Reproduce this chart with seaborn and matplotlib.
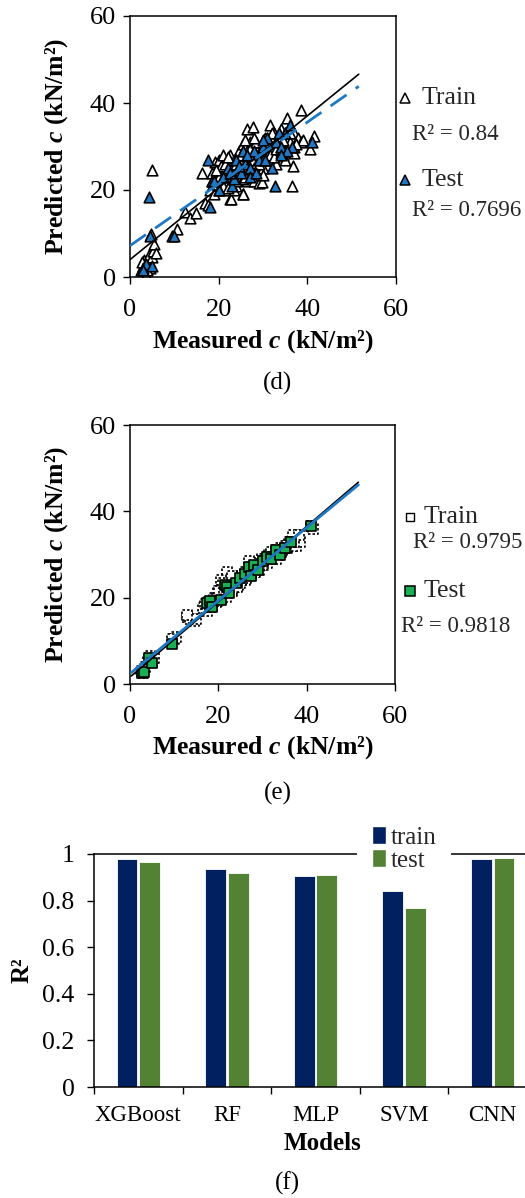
import matplotlib
matplotlib.use("Agg")
import matplotlib.pyplot as plt
from matplotlib.lines import Line2D
from matplotlib.patches import Patch
import seaborn as sns
import pandas as pd
import numpy as np

# ---------------- data ----------------
# Panel (d) SVM
d_train_x = [2.5, 3, 3.2, 3.5, 4, 4.2, 4.5, 5, 5.2, 5.5, 4.8, 3.8, 2.8, 5.8,
             4.9, 10.5, 12.5, 13.5, 14.8, 16.2, 17, 17.5, 18, 18.5, 19, 19.2, 19.5, 20, 20.5, 21,
             21, 21.5, 22, 22, 22.5, 22.5, 23, 23, 23.5, 24, 24, 24.5, 25, 25, 25.5, 25.5, 26,
             26, 26.3, 26.5, 27, 27, 27.5, 27.8, 28, 28, 28.5, 29, 29, 29.5, 30, 30, 30.5, 31,
             31, 31.5, 32, 32, 32.5, 33, 33, 33.5, 34, 34, 34.5, 35, 35, 35.5, 36, 36, 36.5,
             36.8, 37, 37, 38, 38.5, 38.5, 40.5, 41.5, 39, 29.7, 25.6, 22.8, 24, 26, 28, 21, 20,
             20, 20.5, 21.5, 22, 23, 23.5, 24, 24.5, 25, 25.5, 26, 26.5, 27, 27.5, 28, 28.5, 29,
             29.5, 30, 30.5, 31, 31.5, 32, 32.5, 33, 33.5, 34, 34.5, 35, 36, 37, 37.5, 19.5, 18.5,
             22, 26, 30, 34, 24, 28]
d_train_y = [1.5, 2.5, 4, 0.5, 3, 5, 2, 4.5, 6, 7.5, 10, 1.5, 3.5, 5.5,
             24.5, 11, 15, 13.5, 14.8, 24, 17, 16.5, 20, 24, 19, 26.5, 22, 27, 21, 24,
             28, 20, 23, 26, 18, 28, 22, 25, 27, 21, 24, 29, 23, 26, 30.5, 19, 25,
             28, 34, 22, 27, 31, 24, 34.5, 29, 22, 26, 30, 21.5, 27, 31, 25, 28, 32,
             29, 35, 27, 30, 33, 31, 26, 29, 32, 34, 28, 30, 33, 36.5, 29, 31, 21,
             25.5, 33, 28.5, 32, 38.5, 31, 29.5, 32.5, 31.5, 21.8, 19, 18, 27, 30, 31, 21, 20,
             23, 25.5, 26, 27.5, 24, 20, 26, 25, 28, 22.5, 23, 29, 29.5, 27, 25, 31, 26,
             29.5, 27, 32, 30.5, 28, 33, 27.5, 29.5, 32.5, 30, 31.5, 27, 33, 30, 30.5, 24.5, 22,
             20.5, 31.5, 23.5, 28.5, 22, 32]
d_test_x = [3, 3.5, 4.5, 5, 3, 4.3, 9.5, 10, 17.5, 18, 18.5, 20, 21, 22, 23, 24, 25, 25.5,
            26, 27, 28, 29, 30, 31, 32, 32.7, 33, 34, 35, 36, 36.5, 41, 27, 23.5,
            24.5, 28.5, 30.5, 33.5, 35.5, 19, 22.5, 26.5, 30, 34]
d_test_y = [2, 3, 9.5, 2.5, 1.5, 18.5, 9.5, 9.5, 27, 16, 22, 20, 23, 25, 21, 27, 24, 29,
            26, 25, 29, 27, 30, 32, 25, 21, 31, 30, 33, 35, 30, 31, 23, 22.5,
            25.5, 24, 27, 33, 29, 22, 24, 28, 31.5, 28]
d_fit_x = [0.0, 51.6]
d_train_fit = (0.826, 4.0)    # slope, intercept
d_test_fit = (0.71, 7.2)
d_r2 = ["R² = 0.84", "R² = 0.7696"]

# Panel (e) CNN
e_train_x = [2.5, 3, 3.5, 4, 4.5, 5, 5.5, 10, 10.5, 13, 13.5, 14.5, 15, 16.5, 17, 17.5, 18,
             18.5, 19, 19.5, 20, 20.5, 21, 21, 21.5, 22, 22, 22.5, 23, 23, 23.5, 24, 24.5, 25,
             25, 25.5, 26, 26, 26.5, 27, 27.5, 28, 28, 28.5, 29, 29, 29.5, 30, 30, 30.5, 31,
             31, 31.5, 32, 32, 32.5, 33, 33.5, 34, 34.5, 35, 35.5, 36, 36.5, 37, 37.5, 38,
             38.5, 22, 20.5, 41, 41.5, 12.8, 9.5, 37,
             17.8, 18.2, 19.2, 19.8, 20.2, 21.2, 21.8, 22.8, 23.2, 24.2, 24.8, 25.2, 26.2, 27.2,
             27.8, 28.2, 29.2, 30.2, 31.2, 32.2, 33.2, 34.2, 35.2, 36.2, 37.2, 38.2, 21, 23, 27, 33]
e_train_y = [3.0, 2.5, 4, 5.5, 6.5, 5, 6, 10.5, 11, 15.5, 15, 14.5, 15, 17.5, 18.5, 17, 19,
             18, 20, 19, 21.5, 20, 22, 20.5, 21, 23, 21, 22, 23.5, 21.5, 22.5, 24, 23, 25,
             23.5, 24.5, 26, 24, 25, 26.5, 25.5, 27.5, 26, 26.5, 28, 27, 27.5, 29, 27.5, 28.5, 29.5,
             28, 30, 30.5, 29, 29.5, 31, 30, 31.5, 31, 32, 31.5, 33, 32, 33.5, 32, 34,
             33, 26, 24, 36.5, 36, 16, 10.5, 34.5,
             18.5, 17.8, 19.8, 19.2, 21.5, 21.8, 20.2, 22.5, 22, 22.5, 24.5, 24, 24.5, 25.5,
             26.5, 26, 26.5, 28.5, 29.5, 29.5, 30, 30.5, 31.5, 33, 33, 34.5, 23.5, 25, 28.5, 29]
e_test_x = [2.8, 3.2, 4.2, 5, 9.5, 17.5, 18, 18.5, 20.5, 21.5, 22, 22.5, 24, 25, 26, 27, 27.5,
            28, 29, 30, 31, 32, 33, 34, 35, 36.5, 41]
e_test_y = [2.6, 2.8, 6, 4.8, 9.3, 18.8, 19.2, 17.8, 19.5, 23, 22.5, 21, 23.5, 24.5, 25.5, 27, 25,
            27.5, 26.5, 28.5, 29.5, 29, 31, 30, 31.5, 33, 36.5]
e_fit_x = [0.3, 51.7]
e_train_fit = (0.873, 1.6)
e_test_fit = (0.846, 2.4)
e_r2 = ["R² = 0.9795", "R² = 0.9818"]

# Panel (f) R2 comparison
models = ["XGBoost", "RF", "MLP", "SVM", "CNN"]
r2_train = [0.98, 0.935, 0.905, 0.84, 0.9795]
r2_test = [0.965, 0.92, 0.91, 0.7696, 0.9818]

# ---------------- style ----------------
sns.set_theme(style="ticks")
plt.rcParams["font.family"] = ["Liberation Serif", "DejaVu Serif"]
plt.rcParams["mathtext.fontset"] = "custom"
plt.rcParams["mathtext.rm"] = "Liberation Serif:bold"
plt.rcParams["mathtext.it"] = "Liberation Serif:italic:bold"
plt.rcParams["mathtext.bf"] = "Liberation Serif:bold"

W, H = 525, 1198
fig = plt.figure(figsize=(W / 100, H / 100), dpi=100)


def fx(px):
    return px / W


def fy(py):
    return 1 - py / H


def box(l, t, r, b):
    return [fx(l), fy(b), (r - l) / W, (b - t) / H]


BLUE = "#1F78C4"
GREEN = "#19AF55"
NAVY = "#002060"
OLIVE = "#548235"


def scatter_panel(rect, tx, ty, sx, sy, fit_x, trfit, tefit, marker, test_color,
                  train_dashed, test_line_dashed, label_letter, label_y):
    ax = fig.add_axes(rect)
    tr = pd.DataFrame({"x": tx, "y": ty})
    te = pd.DataFrame({"x": sx, "y": sy})
    kw = dict(linewidths=1.2)
    if train_dashed:
        kw["linestyles"] = (0, (1.5, 1.2))
    size = 58 if marker == "^" else 52
    sns.scatterplot(data=tr, x="x", y="y", ax=ax, marker=marker, s=size,
                    facecolor="white", edgecolor="black", zorder=2, legend=False, **kw)
    sns.scatterplot(data=te, x="x", y="y", ax=ax, marker=marker, s=size,
                    color=test_color, edgecolor="black", linewidth=1.2, zorder=3, legend=False)
    fxs = np.array(fit_x)
    ltr = pd.DataFrame({"x": fxs, "y": trfit[0] * fxs + trfit[1]})
    lte = pd.DataFrame({"x": fxs, "y": tefit[0] * fxs + tefit[1]})
    sns.lineplot(data=ltr, x="x", y="y", ax=ax, color="black", linewidth=1.2, zorder=4)
    if test_line_dashed:
        sns.lineplot(data=lte, x="x", y="y", ax=ax, color=BLUE, linewidth=2.0,
                     dashes=False, linestyle=(0, (7, 4)), zorder=5)
    else:
        sns.lineplot(data=lte, x="x", y="y", ax=ax, color=BLUE, linewidth=2.0, zorder=5)
    ax.set_xlim(0, 60)
    ax.set_ylim(0, 60)
    ax.set_xticks([0, 20, 40, 60])
    ax.set_yticks([0, 20, 40, 60])
    ax.tick_params(axis="both", direction="out", length=5, width=1.0, color="black",
                   labelsize=19, labelcolor="black", pad=5)
    ax.tick_params(axis="x", pad=11)
    for s in ax.spines.values():
        s.set_visible(True)
        s.set_color("black")
        s.set_linewidth(1.1)
    ax.set_xlabel(r"Measured $\mathit{c}$ (kN/m²)", fontsize=18.5, fontweight="bold", color="black")
    ax.set_ylabel(r"Predicted $\mathit{c}$ (kN/m²)", fontsize=18.5, fontweight="bold", color="black")
    ax.xaxis.label.set_va("center")
    ax.yaxis.label.set_va("center")
    bbox_h = rect[3] * H
    bbox_w = rect[2] * W
    top_px = (1 - rect[1] - rect[3]) * H
    bottom_px = top_px + bbox_h
    ax.xaxis.set_label_coords(0.5, -(label_y[0] - bottom_px) / bbox_h)
    ax.yaxis.set_label_coords((57 - rect[0] * W) / bbox_w, 0.5)
    fig.text(fx(278), fy(label_y[1]), label_letter, fontsize=18, ha="center", va="center",
             color="black")
    return ax


ax_d = scatter_panel(box(130, 16, 396, 277), d_train_x, d_train_y, d_test_x, d_test_y,
                     d_fit_x, d_train_fit, d_test_fit, "^", BLUE, False, True, "(d)", (342, 383))
ax_e = scatter_panel(box(130, 425, 395, 684), e_train_x, e_train_y, e_test_x, e_test_y,
                     e_fit_x, e_train_fit, e_test_fit, "s", GREEN, True, False, "(e)", (748, 793))

# custom legends for (d)
fig.add_artist(Line2D([fx(405)], [fy(98)], transform=fig.transFigure, marker="^", markersize=6.5,
                      markerfacecolor="white", markeredgecolor="black", markeredgewidth=1.1, linestyle="none"))
fig.text(fx(422), fy(98), "Train", fontsize=18.5, va="center", ha="left")
fig.text(fx(412), fy(135), d_r2[0], fontsize=16.5, va="center", ha="left")
fig.add_artist(Line2D([fx(405)], [fy(180)], transform=fig.transFigure, marker="^", markersize=6.5,
                      markerfacecolor=BLUE, markeredgecolor="black", markeredgewidth=1.1, linestyle="none"))
fig.text(fx(422), fy(180), "Test", fontsize=18.5, va="center", ha="left")
fig.text(fx(412), fy(210), d_r2[1], fontsize=16.5, va="center", ha="left")

# custom legends for (e)
fig.add_artist(Line2D([fx(410)], [fy(517)], transform=fig.transFigure, marker="s", markersize=6,
                      markerfacecolor="white", markeredgecolor="black", markeredgewidth=1.0,
                      linestyle="none"))
fig.text(fx(424), fy(517), "Train", fontsize=18.5, va="center", ha="left")
fig.text(fx(413), fy(542), e_r2[0], fontsize=16.5, va="center", ha="left")
fig.add_artist(Line2D([fx(410)], [fy(591)], transform=fig.transFigure, marker="s", markersize=7,
                      markerfacecolor=GREEN, markeredgecolor="black", markeredgewidth=1.1, linestyle="none"))
fig.text(fx(424), fy(591), "Test", fontsize=18.5, va="center", ha="left")
fig.text(fx(401), fy(626), e_r2[1], fontsize=16.5, va="center", ha="left")

# ---------------- panel (f) ----------------
rect_f = box(94, 854, 537, 1087)
ax_f = fig.add_axes(rect_f)
df = pd.DataFrame({
    "Model": models * 2,
    "R2": r2_train + r2_test,
    "Set": ["train"] * len(models) + ["test"] * len(models),
})
sns.barplot(data=df, x="Model", y="R2", hue="Set", order=models, hue_order=["train", "test"],
            palette=[NAVY, OLIVE], width=0.51, gap=0.08, ax=ax_f, edgecolor="white",
            linewidth=0.6, saturation=1.0, legend=False)
ax_f.set_xlim(-0.5, len(models) - 0.5)
ax_f.set_ylim(0, 1)
ax_f.set_yticks([0, 0.2, 0.4, 0.6, 0.8, 1.0])
ax_f.set_yticklabels(["0", "0.2", "0.4", "0.6", "0.8", "1"])
ax_f.set_xticks(range(len(models)))
ax_f.set_xticklabels(models)
ax_f.set_xticks(np.arange(-0.5, len(models) + 0.5, 1.0), minor=True)
ax_f.tick_params(axis="x", which="major", length=0, labelsize=16.5, pad=13, labelcolor="black")
ax_f.tick_params(axis="x", which="minor", length=5, width=1.0, direction="out", color="black")
ax_f.tick_params(axis="y", which="major", length=5, width=1.0, direction="out", color="black",
                 labelsize=18.5, pad=9, labelcolor="black")
for name, s in ax_f.spines.items():
    s.set_color("black")
    s.set_linewidth(1.1)
    s.set_visible(name in ("left", "bottom", "top"))
ax_f.set_xlabel("Models", fontsize=18, fontweight="bold", color="black")
ax_f.set_ylabel("R²", fontsize=18, fontweight="bold", color="black")
ax_f.xaxis.label.set_va("center")
ax_f.yaxis.label.set_va("center")
ax_f.xaxis.set_label_coords((322 - 94) / 443, -(1143 - 1087) / 233)
ax_f.yaxis.set_label_coords((22 - 94) / 443, 0.5)
handles = [Patch(facecolor=NAVY, edgecolor="white"), Patch(facecolor=OLIVE, edgecolor="white")]
leg = ax_f.legend(handles, ["train", "test"], loc="center", bbox_to_anchor=(fx(404), fy(849)),
                  bbox_transform=fig.transFigure, fontsize=18, frameon=True, framealpha=1,
                  facecolor="white", edgecolor="white", fancybox=False, handlelength=0.55,
                  handleheight=0.7, handletextpad=0.2, labelspacing=0.02, borderpad=0.6,
                  borderaxespad=0)
leg.get_frame().set_linewidth(0)
leg.set_zorder(10)
fig.text(fx(287), fy(1183), "(f)", fontsize=18, ha="center", va="center", color="black")

fig.savefig("out.png", dpi=100, facecolor="white")
